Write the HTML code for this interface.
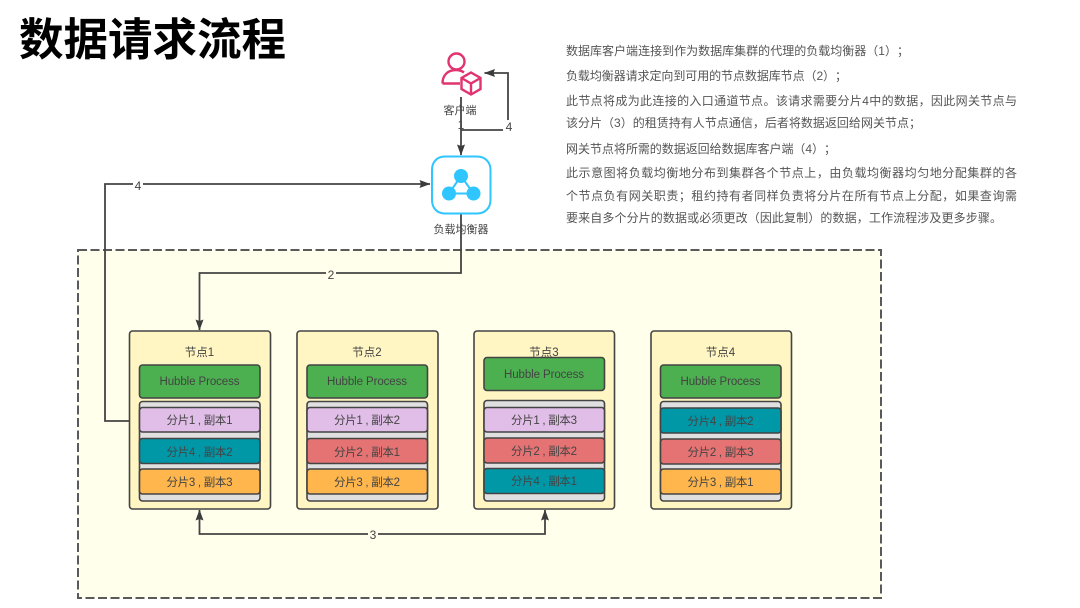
<!DOCTYPE html>
<html><head><meta charset="utf-8"><style>
html,body{margin:0;padding:0;background:#fff;width:1080px;height:608px;overflow:hidden}
svg{display:block;filter:blur(.35px)}
text{font-family:"Liberation Sans","Noto Sans CJK SC",sans-serif;text-spacing-trim:space-all}
.d text{font-size:11.500px;fill:#444;text-anchor:middle}
.p text{font-size:12px;fill:#555}
.l{fill:none;stroke:#444;stroke-width:1.800}
.b{stroke:#444;stroke-width:1.600}
</style></head><body>
<svg width="1080" height="608" viewBox="0 0 1080 608" xmlns="http://www.w3.org/2000/svg">
<defs><marker id="a" markerWidth="12" markerHeight="10" refX="10.500" refY="4.500" orient="auto-start-reverse" markerUnits="userSpaceOnUse"><path d="M0 0.500L11 4.500L0 8.500L1.500 4.500Z" fill="#3c3c3c"/></marker></defs>
<text x="19" y="55" font-size="44.500" font-weight="700" fill="#000" style="font-family:'Noto Sans CJK SC',sans-serif">数据请求流程</text>

<g class="p">
<text x="566" y="55" textLength="343" lengthAdjust="spacing">数据库客户端连接到作为数据库集群的代理的负载均衡器（1）；</text>
<text x="566" y="80" textLength="281" lengthAdjust="spacing">负载均衡器请求定向到可用的节点数据库节点（2）；</text>
<text x="566" y="105" textLength="451" lengthAdjust="spacing">此节点将成为此连接的入口通道节点。该请求需要分片4中的数据，因此网关节点与</text>
<text x="566" y="127" textLength="355" lengthAdjust="spacing">该分片（3）的租赁持有人节点通信，后者将数据返回给网关节点；</text>
<text x="566" y="153" textLength="270" lengthAdjust="spacing">网关节点将所需的数据返回给数据库客户端（4）；</text>
<text x="566" y="177" textLength="451" lengthAdjust="spacing">此示意图将负载均衡地分布到集群各个节点上，由负载均衡器均匀地分配集群的各</text>
<text x="566" y="200" textLength="451" lengthAdjust="spacing">个节点负有网关职责；租约持有者同样负责将分片在所有节点上分配，如果查询需</text>
<text x="566" y="222" textLength="436" lengthAdjust="spacing">要来自多个分片的数据或必须更改（因此复制）的数据，工作流程涉及更多步骤。</text>
</g>

<rect x="78" y="250" width="803" height="348" fill="#ffffeb" stroke="#5a5a5a" stroke-width="2" stroke-dasharray="9 3.500"/>

<!-- connectors -->
<path class="l" d="M461 97V155" marker-end="url(#a)"/>
<path class="l" d="M461 130H508V73H484.500" marker-end="url(#a)"/>
<path class="l" d="M129 421H105V184H430" marker-end="url(#a)"/>
<path class="l" d="M461 214V273H199.500V330" marker-end="url(#a)"/>
<path class="l" d="M199.500 510V534H545V510" marker-start="url(#a)" marker-end="url(#a)"/>
<g font-size="12" fill="#444" text-anchor="middle">
<rect x="503" y="120" width="12" height="14" fill="#fff"/><text x="509" y="131">4</text>
<rect x="133" y="178" width="10" height="14" fill="#fff"/><text x="138" y="190">4</text>
<rect x="326" y="267" width="10" height="14" fill="#ffffeb"/><text x="331" y="279">2</text>
<rect x="368" y="528" width="10" height="13" fill="#ffffeb"/><text x="373" y="539">3</text>
<text x="461" y="129">1</text>
</g>

<!-- client icon -->
<g fill="none" stroke="#e0336f" stroke-width="2.400">
<circle cx="456.500" cy="61.500" r="8"/>
<path d="M442.500 83.500C442.500 75 448 70 456 70C459 70 462 71 464 72.500M442.500 83.500H460"/>
<path d="M471 72.500L480.500 78V89L471 94.500L461.500 89V78ZM461.500 78L471 83.500L480.500 78M471 83.500V94.500"/>
</g>
<text x="460" y="114" font-size="11" fill="#444" text-anchor="middle">客户端</text>

<!-- load balancer -->
<path d="M445 156.500H477C485 156.500 490.500 162 490.500 170V200C490.500 208 485 213.500 477 213.500H445C437 213.500 432 208 432 200V170C432 162 437 156.500 445 156.500Z" fill="#fff" stroke="#2fc6ff" stroke-width="2"/>
<g fill="#2fc6ff"><circle cx="461" cy="176" r="7"/><circle cx="449" cy="193.500" r="7"/><circle cx="473.500" cy="193.500" r="7"/></g>
<path d="M461 176L449 193.500H473.500Z" fill="none" stroke="#2fc6ff" stroke-width="2"/>
<text x="461" y="233" font-size="11" fill="#444" text-anchor="middle">负载均衡器</text>

<!-- node 1 -->
<g class="d">
<rect class="b" x="129.500" y="331" width="141" height="178" rx="3" fill="#fff6c4"/>
<text x="199.500" y="356">节点1</text>
<rect class="b" x="139.500" y="365" width="120.500" height="33" rx="3" fill="#4caf50"/>
<text x="199.500" y="385" textLength="80">Hubble Process</text>
<rect class="b" x="139.500" y="401.500" width="120.500" height="99.500" rx="3" fill="#e0e0e0"/>
<rect class="b" x="139.500" y="407.500" width="120.500" height="24.500" rx="3" fill="#e1bee7"/><text x="199.500" y="424" textLength="66">分片1 , 副本1</text>
<rect class="b" x="139.500" y="438.500" width="120.500" height="25" rx="3" fill="#0097a7"/><text x="199.500" y="456" textLength="66">分片4 , 副本2</text>
<rect class="b" x="139.500" y="469" width="120.500" height="25" rx="3" fill="#ffb74d"/><text x="199.500" y="486" textLength="66">分片3 , 副本3</text>
</g>

<!-- node 2 -->
<g class="d">
<rect class="b" x="297" y="331" width="141" height="178" rx="3" fill="#fff6c4"/>
<text x="367" y="356">节点2</text>
<rect class="b" x="307" y="365" width="120.500" height="33" rx="3" fill="#4caf50"/>
<text x="367" y="385" textLength="80">Hubble Process</text>
<rect class="b" x="307" y="401.500" width="120.500" height="99.500" rx="3" fill="#e0e0e0"/>
<rect class="b" x="307" y="407.500" width="120.500" height="24.500" rx="3" fill="#e1bee7"/><text x="367" y="424" textLength="66">分片1 , 副本2</text>
<rect class="b" x="307" y="438.500" width="120.500" height="25" rx="3" fill="#e57373"/><text x="367" y="456" textLength="66">分片2 , 副本1</text>
<rect class="b" x="307" y="469" width="120.500" height="25" rx="3" fill="#ffb74d"/><text x="367" y="486" textLength="66">分片3 , 副本2</text>
</g>

<!-- node 3 -->
<g class="d">
<rect class="b" x="474" y="331" width="140.500" height="178" rx="3" fill="#fff6c4"/>
<text x="544" y="356">节点3</text>
<rect class="b" x="484" y="357.500" width="120.500" height="33" rx="3" fill="#4caf50"/>
<text x="544" y="378" textLength="80">Hubble Process</text>
<rect class="b" x="484" y="400.500" width="120.500" height="100.500" rx="3" fill="#e0e0e0"/>
<rect class="b" x="484" y="407.500" width="120.500" height="24.500" rx="3" fill="#e1bee7"/><text x="544" y="424" textLength="66">分片1 , 副本3</text>
<rect class="b" x="484" y="438" width="120.500" height="25" rx="3" fill="#e57373"/><text x="544" y="455" textLength="66">分片2 , 副本2</text>
<rect class="b" x="484" y="468.500" width="120.500" height="25" rx="3" fill="#0097a7"/><text x="544" y="485" textLength="66">分片4 , 副本1</text>
</g>

<!-- node 4 -->
<g class="d">
<rect class="b" x="651" y="331" width="140.500" height="178" rx="3" fill="#fff6c4"/>
<text x="720.500" y="356">节点4</text>
<rect class="b" x="660.500" y="365" width="120.500" height="33" rx="3" fill="#4caf50"/>
<text x="720.500" y="385" textLength="80">Hubble Process</text>
<rect class="b" x="660.500" y="401.500" width="120.500" height="99.500" rx="3" fill="#e0e0e0"/>
<rect class="b" x="660.500" y="408" width="120.500" height="25" rx="3" fill="#0097a7"/><text x="720.500" y="425" textLength="66">分片4 , 副本2</text>
<rect class="b" x="660.500" y="439" width="120.500" height="25" rx="3" fill="#e57373"/><text x="720.500" y="456" textLength="66">分片2 , 副本3</text>
<rect class="b" x="660.500" y="469" width="120.500" height="25" rx="3" fill="#ffb74d"/><text x="720.500" y="486" textLength="66">分片3 , 副本1</text>
</g>
</svg>
</body></html>
